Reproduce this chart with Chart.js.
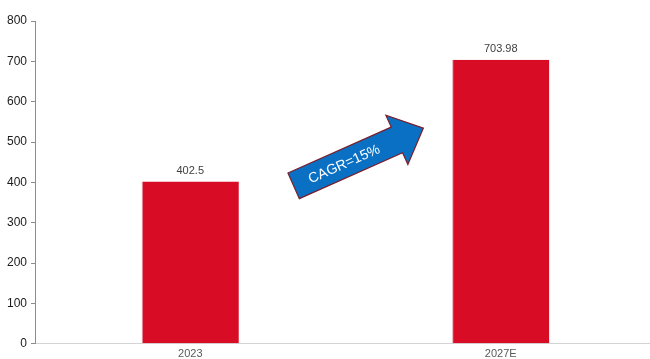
<!DOCTYPE html>
<html>
<head>
<meta charset="utf-8">
<script src="https://cdn.jsdelivr.net/npm/chart.js@4/dist/chart.umd.min.js"></script>
<style>
  html, body { margin: 0; padding: 0; background: #fff; overflow: hidden; }
  #wrap { width: 650px; height: 359px; overflow: hidden; }
</style>
</head>
<body>
<!-- the x axis runs on past the right edge of the view -->
<div id="wrap"><canvas id="c" width="656" height="359"></canvas></div>
<script>
// Market size, actual vs. forecast
const years = ['2023', '2027E'];
const marketSize = [402.5, 703.98];
const valueLabels = ['402.5', '703.98'];
const cagrText = 'CAGR=15%';

// Value labels drawn above each bar
const barValueLabels = {
  id: 'barValueLabels',
  afterDatasetsDraw(chart) {
    const ctx = chart.ctx;
    const meta = chart.getDatasetMeta(0);
    ctx.save();
    ctx.font = '11px "Liberation Sans", Arial, sans-serif';
    ctx.fillStyle = '#404040';
    ctx.textAlign = 'center';
    ctx.textBaseline = 'bottom';
    meta.data.forEach((bar, i) => {
      ctx.fillText(valueLabels[i], bar.x, bar.y - 5);
    });
    ctx.restore();
  }
};

// Growth arrow between the two bars
const growthArrow = {
  id: 'growthArrow',
  afterDatasetsDraw(chart) {
    const ctx = chart.ctx;
    const xs = chart.scales.x, ys = chart.scales.y;
    const cx = (xs.getPixelForValue(0) + xs.getPixelForValue(1)) / 2 + 13;
    const cy = ys.getPixelForValue(463);
    ctx.save();
    ctx.translate(cx, cy);
    ctx.rotate(-24 * Math.PI / 180);
    // arrow outline in its own (unrotated) frame
    const L = 71, shaftH = 14, headH = 27, headStart = 42;
    ctx.beginPath();
    ctx.moveTo(-L, -shaftH);
    ctx.lineTo(headStart, -shaftH);
    ctx.lineTo(headStart, -headH);
    ctx.lineTo(L, 0);
    ctx.lineTo(headStart, headH);
    ctx.lineTo(headStart, shaftH);
    ctx.lineTo(-L, shaftH);
    ctx.closePath();
    ctx.fillStyle = '#0A70C4';
    ctx.fill();
    ctx.lineWidth = 1.2;
    ctx.strokeStyle = '#7A1F2B';
    ctx.stroke();
    ctx.font = '14px "Liberation Sans", Arial, sans-serif';
    ctx.fillStyle = '#ffffff';
    ctx.textAlign = 'center';
    ctx.textBaseline = 'middle';
    ctx.fillText(cagrText, -16, 1);
    ctx.restore();
  }
};

new Chart(document.getElementById('c'), {
  type: 'bar',
  data: {
    labels: years,
    datasets: [{
      data: marketSize,
      backgroundColor: '#D80C24',
      borderColor: '#E8A0A8',
      borderWidth: { top: 0, left: 1, right: 0, bottom: 0 },
      categoryPercentage: 1,
      barPercentage: 0.313
    }]
  },
  options: {
    responsive: false,
    animation: false,
    layout: { padding: { top: 21, right: 0, bottom: 2, left: 3 } },
    plugins: { legend: { display: false }, tooltip: { enabled: false } },
    scales: {
      x: {
        grid: { display: false },
        border: { display: true, color: '#D4D4D4', width: 1 },
        ticks: {
          color: '#595959',
          font: { family: '"Liberation Sans", Arial, sans-serif', size: 11 },
          padding: -4
        }
      },
      y: {
        min: 0,
        max: 800,
        grid: { drawOnChartArea: false, drawTicks: true, tickLength: 4, color: '#8C8C8C' },
        border: { display: true, color: '#8C8C8C', width: 1 },
        ticks: {
          stepSize: 100,
          color: '#1A1A1A',
          padding: 4,
          font: { family: '"Liberation Sans", Arial, sans-serif', size: 12 }
        }
      }
    }
  },
  plugins: [barValueLabels, growthArrow]
});
</script>
</body>
</html>
